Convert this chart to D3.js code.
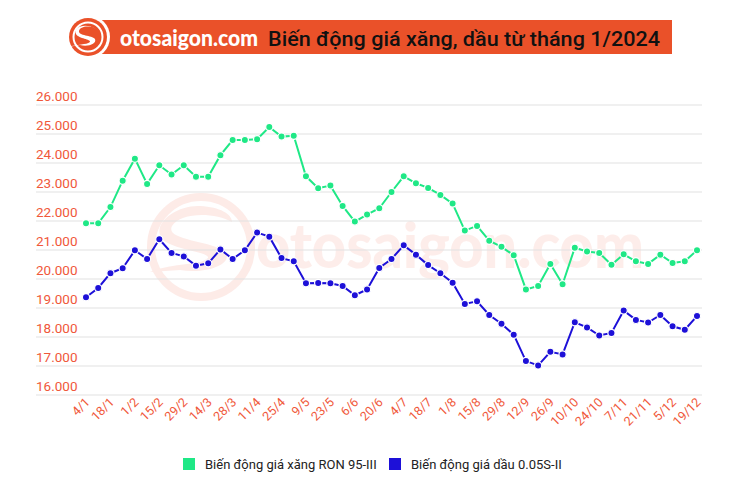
<!DOCTYPE html>
<html>
<head>
<meta charset="utf-8">
<script src="https://cdn.jsdelivr.net/npm/d3@7"></script>
<style>
  html, body { margin: 0; padding: 0; background: #fff; }
  svg { display: block; font-family: Roboto, "Noto Sans", sans-serif; }
</style>
</head>
<body>
<svg id="chart" width="750" height="493"></svg>
<script>
const dates = ["4/1","11/1","18/1","25/1","1/2","8/2","15/2","22/2","29/2","7/3","14/3","21/3","28/3","4/4","11/4","18/4","25/4","2/5","9/5","16/5","23/5","30/5","6/6","13/6","20/6","27/6","4/7","11/7","18/7","25/7","1/8","8/8","15/8","22/8","29/8","5/9","12/9","19/9","26/9","3/10","10/10","17/10","24/10","31/10","7/11","14/11","21/11","28/11","5/12","12/12","19/12"];
const xangRON95 = [21920,21920,22480,23390,24150,23280,23920,23600,23920,23530,23530,24270,24790,24790,24820,25240,24910,24940,23540,23130,23220,22520,21980,22220,22440,23000,23540,23300,23140,22900,22600,21670,21830,21320,21110,20820,19640,19760,20520,19820,21080,20950,20900,20490,20850,20610,20520,20840,20550,20610,20990];
const dauDO = [19370,19690,20200,20370,20990,20690,21370,20900,20780,20460,20540,21020,20690,20990,21600,21460,20720,20610,19850,19860,19850,19760,19440,19640,20380,20690,21160,20840,20480,20200,19870,19140,19230,18760,18460,18080,17170,17020,17490,17400,18510,18330,18050,18140,18910,18590,18500,18760,18370,18250,18720];
const yTicks = [16000,17000,18000,19000,20000,21000,22000,23000,24000,25000,26000];
const seriesNames = ["Biến động giá xăng RON 95-III", "Biến động giá dầu 0.05S-II"];
const seriesColors = ["#1fe886", "#1d10d8"];
const titleText = "Biến động giá xăng, dầu từ tháng 1/2024";
const brandText = "otosaigon.com";

const svg = d3.select("#chart");
const orange = "#ea5129";
const labelColor = "#f0583a";

// watermark
const wm = svg.append("g").attr("opacity", 0.45);
wm.append("circle").attr("cx", 201).attr("cy", 247).attr("r", 50)
  .attr("fill", "none").attr("stroke", "#fbd3cb").attr("stroke-width", 8);
wm.append("path")
  .attr("d", "M232,222 C215,212 180,212 172,226 C165,240 205,240 222,250 C238,260 212,275 180,270 L150,272 C175,262 200,266 208,258 C210,252 175,250 163,240 C150,225 175,205 200,206 C220,207 232,214 232,222 Z")
  .attr("fill", "#fbd3cb");
wm.append("text").attr("x", 256).attr("y", 268).text(brandText)
  .attr("font-size", 62).attr("font-weight", 900).attr("font-family", "Lato, sans-serif")
  .attr("fill", "#fcd9d2").attr("textLength", 388).attr("lengthAdjust", "spacingAndGlyphs");

// header
svg.append("rect").attr("x", 100).attr("y", 20).attr("width", 572).attr("height", 34).attr("fill", orange);
svg.append("circle").attr("cx", 88).attr("cy", 37).attr("r", 22).attr("fill", "#fff");
svg.append("circle").attr("cx", 88).attr("cy", 37).attr("r", 19).attr("fill", orange);
svg.append("circle").attr("cx", 88).attr("cy", 37).attr("r", 14.5).attr("fill", "none").attr("stroke", "#fff").attr("stroke-width", 2);
svg.append("path")
  .attr("d", "M96,29 C90,25 80,26 79,31 C78,36 92,35 95,39 C97,44 88,47 80,45 L68,47 C78,44 86,45 90,42 C91,39 79,39 76,34 C73,28 84,22 96,29 Z")
  .attr("fill", "#fff");
svg.append("text").attr("x", 120).attr("y", 46).text(brandText)
  .attr("font-size", 22).attr("font-weight", 900).attr("font-family", "Lato, sans-serif")
  .attr("fill", "#fff").attr("textLength", 138).attr("lengthAdjust", "spacingAndGlyphs");
svg.append("text").attr("x", 268).attr("y", 46).text(titleText)
  .attr("font-size", 21).attr("font-weight", 500).attr("fill", "#111")
  .attr("textLength", 392).attr("lengthAdjust", "spacingAndGlyphs");

// scales
const x = d3.scalePoint().domain(dates).range([86, 697]);
const y = d3.scaleLinear().domain([16000, 26000]).range([395, 105]);

// gridlines
const grid = svg.append("g");
grid.selectAll("line").data(yTicks).join("line")
  .attr("x1", 36).attr("x2", 702)
  .attr("y1", d => y(d)).attr("y2", d => y(d))
  .attr("stroke", "#e2e2e2").attr("stroke-width", 1.2);

// y labels
const fmt = d => d3.format(",")(d).replace(/,/g, ".");
const yAxis = d3.axisLeft(y).tickValues(yTicks).tickFormat(fmt).tickSize(0);
const yg = svg.append("g").attr("transform", "translate(36,0)").call(yAxis);
yg.select(".domain").remove();
yg.selectAll("text").attr("text-anchor", "start").attr("x", 0).attr("dy", "-0.3em")
  .attr("fill", labelColor).attr("font-size", 13.5).attr("font-family", "Roboto, sans-serif");

// x labels
const xAxis = d3.axisBottom(x).tickValues(dates.filter((d, i) => i % 2 === 0)).tickSize(0);
const xg = svg.append("g").attr("transform", "translate(0,397)").call(xAxis);
xg.select(".domain").remove();
xg.selectAll("text").attr("text-anchor", "end").attr("dy", null).attr("y", 0)
  .attr("transform", "translate(4,6) rotate(-45)")
  .attr("fill", labelColor).attr("font-size", 12.5).attr("font-family", "Roboto, sans-serif");

// series
const series = [xangRON95, dauDO];
const line = d3.line().x((d, i) => x(dates[i])).y(d => y(d));
series.forEach((vals, si) => {
  svg.append("path").datum(vals).attr("d", line)
    .attr("fill", "none").attr("stroke", seriesColors[si]).attr("stroke-width", 2);
  svg.append("g").selectAll("circle").data(vals).join("circle")
    .attr("cx", (d, i) => x(dates[i])).attr("cy", d => y(d)).attr("r", 3.6)
    .attr("fill", seriesColors[si]).attr("stroke", "#fff").attr("stroke-width", 1.2);
});

// legend
const legendX = [183, 389];
const legend = svg.append("g");
seriesNames.forEach((name, i) => {
  legend.append("rect").attr("x", legendX[i]).attr("y", 458).attr("width", 12).attr("height", 12)
    .attr("fill", seriesColors[i]);
  legend.append("text").attr("x", legendX[i] + 22).attr("y", 468.5).text(name)
    .attr("font-size", 13).attr("fill", "#222");
});
</script>
</body>
</html>
